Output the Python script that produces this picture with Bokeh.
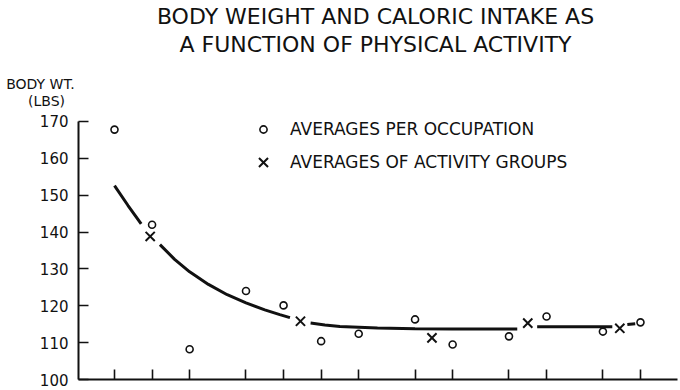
from bokeh.plotting import figure
from bokeh.models import Legend, LegendItem, FixedTicker, Label
from bokeh.embed import file_html
from bokeh.resources import INLINE

# ---- data ----
occ_x = [0, 1, 2, 3.5, 4.5, 5.5, 6.5, 8, 9, 10.5, 11.5, 13, 14]
occ_wt = [167.8, 142.0, 108.2, 124.0, 120.1, 110.4, 112.4, 116.3, 109.5, 111.7, 117.1, 113.0, 115.5]

grp_x = [0.95, 4.95, 8.45, 11.0, 13.45]
grp_wt = [138.8, 115.8, 111.3, 115.3, 113.9]

nan = float("nan")
curve_x = [0.0, 0.36, 0.71, nan,
           1.21, 1.6, 2.0, 2.5, 3.0, 3.5, 4.0, 4.4, 4.67, nan,
           5.22, 5.6, 6.0, 7.0, 8.0, 9.0, 10.0, 10.72, nan,
           11.25, 12.0, 13.25, nan,
           13.65, 13.86]
curve_wt = [152.6, 147.2, 142.2, nan,
            136.6, 132.6, 129.2, 125.8, 123.0, 120.8, 118.9, 117.6, 116.8, nan,
            115.3, 114.8, 114.4, 114.0, 113.8, 113.7, 113.7, 113.7, nan,
            114.3, 114.3, 114.3, nan,
            114.9, 115.1]

y_ticks = [100, 110, 120, 130, 140, 150, 160, 170]
title_lines = ["BODY WEIGHT AND CALORIC INTAKE AS", "A FUNCTION OF PHYSICAL ACTIVITY"]
y_label_lines = ["BODY WT.", "(LBS)"]
legend_labels = ["AVERAGES PER OCCUPATION", "AVERAGES OF ACTIVITY GROUPS"]

FONT = "DejaVu Sans"
INK = "#111111"
W, H = 680, 390

# pixel -> data helpers (layout only)
X0_PX, X_UNIT_PX = 114.0, 37.57      # position of first occupation, px per slot
Y0_PX, Y_UNIT_PX = 379.0, 3.686      # position of 100 lbs, px per lb
def ux(px):
    return (px - X0_PX) / X_UNIT_PX
def wy(py):
    return y_ticks[0] + (Y0_PX - py) / Y_UNIT_PX

p = figure(width=W, height=H, output_backend="svg", toolbar_location=None,
           x_range=(ux(0), ux(W)), y_range=(wy(H), wy(0)),
           min_border_left=0, min_border_right=0, min_border_top=0, min_border_bottom=0)
p.outline_line_color = None
p.grid.visible = False
p.background_fill_color = "white"
p.border_fill_color = "white"

xaxis, yaxis = p.xaxis[0], p.yaxis[0]
for ax in (xaxis, yaxis):
    ax.axis_line_color = INK
    ax.axis_line_width = 2
    ax.major_tick_line_color = INK
    ax.major_tick_line_width = 1.6
    ax.major_tick_in = 10
    ax.major_tick_out = 0
    ax.minor_tick_line_color = None

xaxis.fixed_location = y_ticks[0]
xaxis.bounds = (ux(78), ux(677))
xaxis.ticker = FixedTicker(ticks=occ_x)
xaxis.major_label_overrides = {v: "" for v in occ_x}

yaxis.fixed_location = ux(78)
yaxis.bounds = (y_ticks[0], y_ticks[-1])
yaxis.ticker = FixedTicker(ticks=y_ticks)
yaxis.major_label_text_font = FONT
yaxis.major_label_text_font_size = "15px"
yaxis.major_label_text_color = INK
yaxis.major_label_standoff = 10

# curve
p.line(curve_x, curve_wt, line_color=INK, line_width=3)

# points
circ = p.scatter(occ_x, occ_wt, marker="circle", size=7, fill_color=None,
                 line_color=INK, line_width=1.6)
xs = p.scatter(grp_x, grp_wt, marker="x", size=13, line_color=INK, line_width=2)

common = dict(padding=0, margin=0, border_line_color=None, background_fill_alpha=0,
              label_text_font=FONT, label_text_font_size="17px", label_text_color=INK)
leg1 = Legend(items=[LegendItem(label=legend_labels[0], renderers=[circ])],
              location=(253, H - 138.5), glyph_width=20, glyph_height=18,
              label_height=20, label_standoff=17, **common)
leg2 = Legend(items=[LegendItem(label=legend_labels[1], renderers=[xs])],
              location=(247, H - 177.5), glyph_width=32, glyph_height=32,
              label_height=20, label_standoff=11, **common)
p.add_layout(leg1)
p.add_layout(leg2)

texts = [
    (title_lines[0], 375, 16, 22),
    (title_lines[1], 375, 44, 22),
    (y_label_lines[0], 40, 83, 14),
    (y_label_lines[1], 46, 100, 14),
]
for txt, px, py, fs in texts:
    p.add_layout(Label(x=ux(px), y=wy(py), text=txt, text_align="center",
                       text_baseline="alphabetic", text_font=FONT,
                       text_font_size=f"{fs}px", text_color=INK))

open("out.html", "w").write(file_html(p, INLINE))
